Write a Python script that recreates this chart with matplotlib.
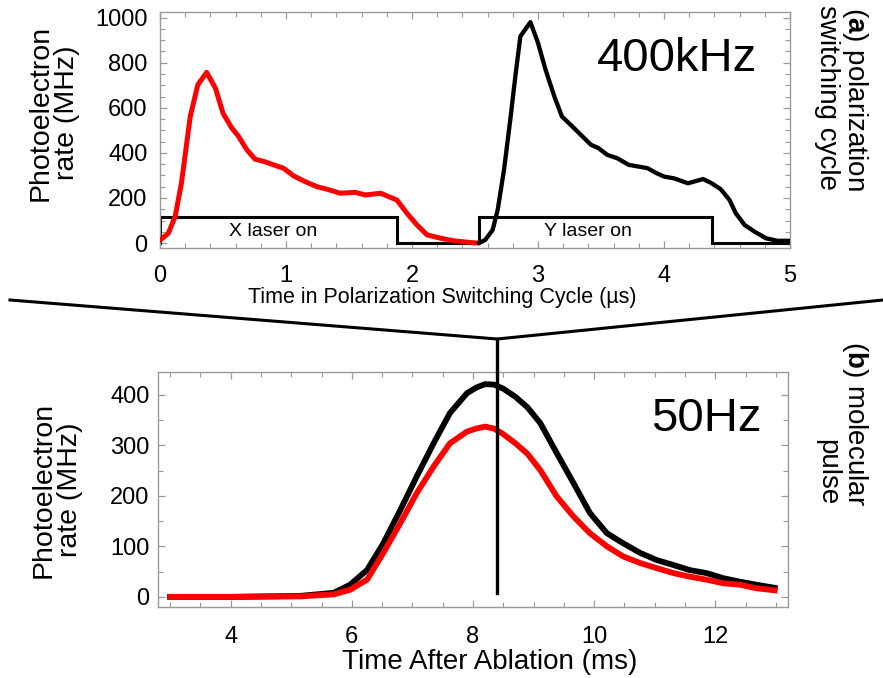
import matplotlib
matplotlib.use("Agg")
import matplotlib.pyplot as plt
from matplotlib.lines import Line2D
from matplotlib.ticker import MultipleLocator

plt.rcParams['font.family'] = ['Liberation Sans', 'DejaVu Sans']
plt.rcParams['mathtext.fontset'] = 'custom'
plt.rcParams['mathtext.rm'] = 'Liberation Sans'
plt.rcParams['mathtext.bf'] = 'Liberation Sans:bold'

# ---------------- data ----------------
# (a) polarization switching cycle, time in microseconds, rate in MHz
x_time = [0, 0.066, 0.12, 0.17, 0.24, 0.30, 0.37, 0.44, 0.50, 0.57, 0.62, 0.69,
          0.755, 0.83, 0.90, 0.98, 1.06, 1.15, 1.245, 1.325, 1.43, 1.55, 1.63,
          1.75, 1.88, 1.96, 2.04, 2.12, 2.23, 2.33, 2.49, 2.53]
x_rate = [13, 43, 117, 265, 561, 702, 757, 687, 576, 510, 476, 413,
          372, 361, 347, 332, 298, 273, 250, 239, 221, 225, 213,
          221, 191, 132, 80, 36, 21, 10, 1, 0]

y_time = [2.53, 2.58, 2.64, 2.68, 2.73, 2.78, 2.82, 2.86, 2.94, 3.0, 3.06, 3.13,
          3.19, 3.26, 3.34, 3.42, 3.48, 3.55, 3.63, 3.72, 3.80, 3.87, 3.93, 4.0,
          4.08, 4.19, 4.31, 4.37, 4.45, 4.52, 4.57, 4.64, 4.72, 4.81, 4.90, 5.0]
y_rate = [0, 13, 58, 147, 324, 547, 739, 917, 980, 888, 769, 650,
          561, 524, 480, 436, 421, 391, 376, 347, 339, 332, 313, 295,
          287, 265, 284, 268, 239, 191, 132, 80, 50, 21, 10, 10]

# laser on/off square wave
laser_t = [0, 0, 1.88, 1.88, 2.53, 2.53, 4.38, 4.38, 5.0]
laser_v = [0, 115, 115, 0, 0, 115, 115, 0, 0]
laser_labels = ["X laser on", "Y laser on"]
laser_label_t = [0.90, 3.40]

# (b) molecular pulse, time after ablation in ms, rate in MHz
pulse_t_black = [3.0, 4.0, 5.15, 5.70, 5.97, 6.25, 6.52, 6.80, 7.07, 7.35, 7.62,
                 7.90, 8.05, 8.2, 8.35, 8.5, 8.7, 8.9, 9.11, 9.38, 9.66, 9.93,
                 10.21, 10.48, 10.76, 11.03, 11.31, 11.58, 11.86, 12.13, 12.41,
                 12.68, 12.98]
pulse_v_black = [0, 0, 2, 8, 24, 53, 106, 172, 238, 304, 364,
                 403, 414, 421, 420, 412, 396, 375, 344, 285, 225, 166,
                 126, 106, 87, 73, 63, 53, 47, 37, 30,
                 24, 18]
pulse_t_red = [3.0, 4.0, 5.15, 5.70, 5.97, 6.25, 6.52, 6.80, 7.07, 7.35, 7.62,
               7.90, 8.05, 8.2, 8.35, 8.5, 8.7, 8.9, 9.11, 9.38, 9.66, 9.93,
               10.21, 10.48, 10.76, 11.03, 11.31, 11.58, 11.86, 12.13, 12.41,
               12.68, 12.98]
pulse_v_red = [0, 0, 1, 5, 14, 34, 87, 146, 205, 258, 304,
               327, 333, 337, 333, 322, 304, 283, 251, 199, 159, 126,
               100, 80, 67, 57, 47, 40, 34, 27, 24,
               17, 13]
marker_time = 8.4

top_xticks = [0, 1, 2, 3, 4, 5]
top_yticks = [0, 200, 400, 600, 800, 1000]
bot_xticks = [4, 6, 8, 10, 12]
bot_yticks = [0, 100, 200, 300, 400]

# ---------------- figure ----------------
W, H = 883, 678
fig = plt.figure(figsize=(W / 100, H / 100), dpi=100)

def fx(px):
    return px / W

def fy(py):
    return 1 - py / H

ax1 = fig.add_axes([fx(160), fy(248), fx(790) - fx(160), fy(12) - fy(248)])
ax2 = fig.add_axes([fx(158), fy(607), fx(788) - fx(158), fy(372) - fy(607)])

spine_col = '#9a9a9a'
for ax in (ax1, ax2):
    for s in ax.spines.values():
        s.set_color(spine_col)
        s.set_linewidth(1.0)
    ax.tick_params(which='both', direction='in', top=True, right=True,
                   color=spine_col, labelsize=17)
    ax.tick_params(which='major', length=5, width=0.9)
    ax.tick_params(which='minor', length=3.5, width=0.8)

# top panel
ax1.plot(laser_t, laser_v, color='black', lw=2.2, solid_joinstyle='miter', zorder=2)
ax1.plot(x_time, x_rate, color='#ff0000', lw=3.6, zorder=3,
         solid_capstyle='round', solid_joinstyle='round')
ax1.plot(y_time, y_rate, color='black', lw=3.1, zorder=3,
         solid_capstyle='round', solid_joinstyle='round')
for lab, t in zip(laser_labels, laser_label_t):
    ax1.text(t, 50, lab, fontsize=14, ha='center', va='center', zorder=4)
ax1.set_xlim(0, 5.0)
ax1.set_ylim(-22, 1025)
ax1.set_xticks(top_xticks)
ax1.set_yticks(top_yticks)
ax1.xaxis.set_minor_locator(MultipleLocator(0.2))
ax1.yaxis.set_minor_locator(MultipleLocator(50))
ax1.tick_params(axis='x', pad=12)
ax1.tick_params(axis='y', pad=9)
ax1.text(0.82, 0.80, "400kHz", transform=ax1.transAxes, fontsize=34,
         ha='center', va='center')

# bottom panel
ax2.plot(pulse_t_black, pulse_v_black, color='black', lw=4.2, zorder=2,
         solid_joinstyle='round')
ax2.plot(pulse_t_red, pulse_v_red, color='#ff0000', lw=4.2, zorder=3,
         solid_joinstyle='round')
ax2.set_xlim(2.8, 13.2)
ax2.set_ylim(-20, 445)
ax2.set_xticks(bot_xticks)
ax2.set_yticks(bot_yticks)
ax2.xaxis.set_minor_locator(MultipleLocator(0.5))
ax2.yaxis.set_minor_locator(MultipleLocator(50))
ax2.tick_params(axis='x', pad=14)
ax2.tick_params(axis='y', pad=6)
ax2.text(0.87, 0.80, "50Hz", transform=ax2.transAxes, fontsize=34,
         ha='center', va='center')

# vertical marker line up to the apex of the V connector
apex_fig_y = 0.5
apex_disp = fig.transFigure.transform((0, apex_fig_y))
apex_data_y = ax2.transData.inverted().transform(apex_disp)[1]
ax2.plot([marker_time, marker_time], [8, apex_data_y], color='black', lw=2.4,
         clip_on=False, zorder=5)
apex_x_disp = ax2.transData.transform((marker_time, 0))[0]
apex_fig_x = fig.transFigure.inverted().transform((apex_x_disp, 0))[0]
fig.add_artist(Line2D([fx(10), apex_fig_x, 1.0], [fy(300), apex_fig_y, fy(300)],
                      transform=fig.transFigure, color='black', lw=2.2,
                      solid_joinstyle='miter'))

# labels
fig.text(fx(442), fy(298), "Time in Polarization Switching Cycle (\u00b5s)",
         fontsize=15.5, ha='center', va='center')
fig.text(fx(490), fy(662), "Time After Ablation (ms)",
         fontsize=20, ha='center', va='center')
fig.text(fx(54), fy(113), "Photoelectron\nrate (MHz)", rotation=90,
         fontsize=20.5, ha='center', va='center', multialignment='center',
         linespacing=1.0)
fig.text(fx(57), fy(490), "Photoelectron\nrate (MHz)", rotation=90,
         fontsize=20.5, ha='center', va='center', multialignment='center',
         linespacing=1.0)
fig.text(fx(842), fy(98), "($\\bf{a}$) polarization\nswitching cycle", rotation=270,
         fontsize=20, ha='center', va='center', multialignment='right',
         linespacing=1.0)
fig.text(fx(842), fy(423), "($\\bf{b}$) molecular\npulse", rotation=270,
         fontsize=20, ha='center', va='center', multialignment='right',
         linespacing=1.0)

fig.savefig("out.png", dpi=100)
